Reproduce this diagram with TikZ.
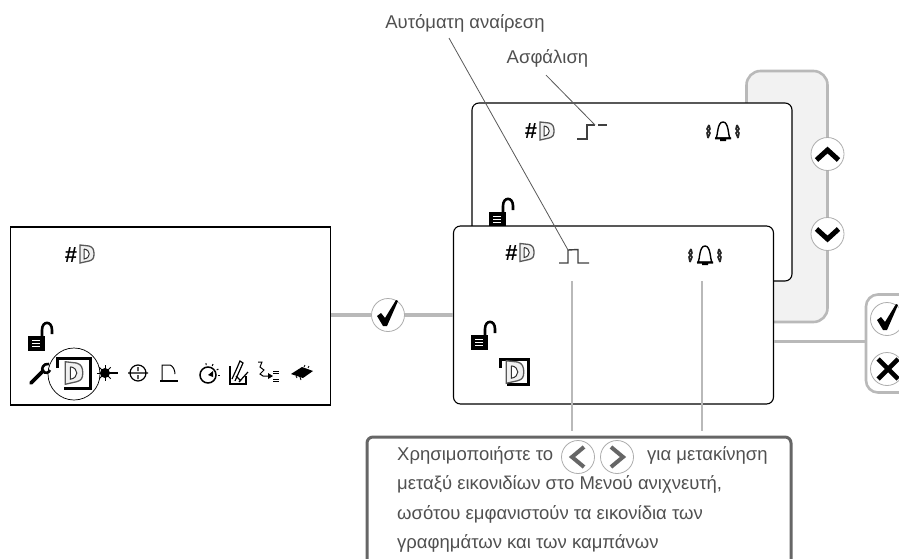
\documentclass[tikz,border=0pt]{standalone}
\usepackage{fontspec}
\setmainfont{Liberation Sans}
\definecolor{flow}{HTML}{b9b9b9}
\definecolor{panel}{HTML}{f2f2f2}
\definecolor{note}{HTML}{666666}
\definecolor{inktext}{HTML}{505050}
\tikzset{screen box/.style={draw=black,fill=white,line width=1.1pt,minimum width=320pt,minimum height=178pt,inner sep=0pt}}
\tikzset{round box/.style={screen box,rounded corners=7pt}}
\tikzset{flow line/.style={draw=flow,line width=2.6pt}}
\tikzset{lead line/.style={draw=black!65,line width=.8pt}}
\tikzset{round key/.style={circle,draw=black!32,fill=white,line width=.8pt,minimum size=33pt,inner sep=0pt}}
\tikzset{label text/.style={font=\fontsize{18.5}{20}\selectfont,text=inktext,inner sep=0pt}}
\tikzset{note text/.style={label text,anchor=base west}}
\tikzset{hash mark/.style={font=\fontsize{22}{22}\selectfont\bfseries,inner sep=0pt}}
\tikzset{
  door/.pic={
    \draw[black!65,line width=1.3pt,fill=black!6] (-7,-9) -- (2,-8) .. controls (6,-7) and (7,-4) .. (7,0)
      .. controls (7,4) and (6,6) .. (2,7) -- (-7,9) -- cycle;
    \draw[black!80,line width=1pt,fill=white] (-3,-5) -- (-3,5) .. controls (4,4) and (4,-4) .. (-3,-5);
  },
  door key/.pic={
    \draw[line width=3pt] (-17,-5) -- (-17,-15) -- (16,-15) -- (16,15) -- (-10,15);
    \pic[scale=1.25] at (0,0) {door};
  },
  lock/.pic={
    \fill (-8.5,-7.5) rectangle (8.5,7.5);
    \draw[white,line width=1pt] (-4,-3) -- (4,-3) (-4,0) -- (4,0) (-4,3) -- (4,3);
    \draw[line width=2.6pt] (6,-7) -- (6,-13) .. controls (6,-22.5) and (16,-22.5) .. (16,-13) -- (16,-9);
  },
  bell/.pic={
    \draw[line width=1.4pt] (-7,6) .. controls (-5,4) and (-6,-10) .. (0,-10) .. controls (6,-10) and (5,4) .. (7,6) -- cycle;
    \fill (-8,5.5) rectangle (8,7.5) (-3,7) rectangle (3,9);
    \draw[line width=1.6pt,black!85] (-14,-7) -- (-16,-3) -- (-13,1) -- (-15,6) (-14,-7) -- (-13,-3) -- (-16,1) -- (-15,6)
      (14,-7) -- (16,-3) -- (13,1) -- (15,6) (14,-7) -- (13,-3) -- (16,1) -- (15,6);
  },
  check mark/.pic={
    \fill (-11,1) -- (-7,-2) -- (-3,3) -- (8,-15) -- (10,-14) -- (-1,11) -- (-5,11) -- cycle;
  },
  cross mark/.pic={
    \draw[line width=4.6pt] (-10,-10) -- (10,10) (-10,10) -- (10,-10);
  },
  wrench/.pic={
    \draw[line width=3.6pt,line cap=round] (-9,10) -- (3,-2);
    \draw[line width=2.6pt] (9,-9) .. controls (3,-10) and (1,-4) .. (3,-2) .. controls (5,1) and (9,0) .. (10,-3);
  },
  laser/.pic={
    \fill circle (5);
    \foreach \ang in {45,90,135,180,225,270,315} \draw[line width=1pt] (0,0) -- (\ang:8);
    \draw[line width=1.2pt] (0,0) -- (13,0);
  },
  target/.pic={
    \draw[line width=1.2pt] (0,0) circle (8) (-10,0) -- (10,0) (0,-6) -- (0,-2) (0,2) -- (0,6);
  },
  angle mark/.pic={
    \draw[line width=2pt] (-8,9) -- (10,9);
    \draw[line width=1pt] (-6,9) -- (-6,-7) -- (2,-7) .. controls (5,-6) and (7,-2) .. (7,2);
  },
  stopwatch/.pic={
    \draw[line width=1.5pt] (0,0) circle (8);
    \fill (0,0) -- (5,-4) -- (5,2) -- cycle;
    \foreach \ang in {-100,-65,-30,0} \draw[line width=1pt] (\ang:10) -- (\ang:12);
  },
  notepad/.pic={
    \draw[line width=1.1pt] (-8,-7) -- (-8,11) -- (8,11) -- (8,3);
    \draw[line width=1.2pt] (-6,6) -- (-1,-5) -- (2,-12) -- (5,-10) -- (-3,8) (-2,3) -- (3,8) (10,-1) -- (1,9);
  },
  wire mark/.pic={
    \draw[line width=1pt] (-9,-11) -- (-5,-11) -- (-7,-6) -- (-3,-3) -- (-7,1) -- (-4,3) -- (3,3);
    \fill (1,0) -- (6,3) -- (1,6) -- cycle;
    \draw[line width=1pt] (6,-2) -- (12,-2) (6,0) -- (12,0) (6,6) -- (12,6) (6,8) -- (12,8);
  },
  chip/.pic={
    \fill (-11,1) -- (0,-6) -- (11,-2) -- (1,5) -- cycle;
    \draw[line width=.8pt] (-6,3) -- (-5,5) (-2,4) -- (-1,7) (2,-6) -- (3,-8) (6,-5) -- (7,-7);
  }
}
\begin{document}
\begin{tikzpicture}[x=1pt,y=-1pt]
  \path[use as bounding box,clip] (0,0) rectangle (899,559);
  % grey loop behind the second screens
  \node[flow line,fill=panel,rounded corners=14pt,minimum width=81pt,minimum height=251pt,inner sep=0pt] (cycle panel) at (787,196.5) {};
  \node[round key] (up key) at (827.5,154) {};
  \node[round key] (down key) at (827.5,234) {};
  \pic at (up key) {code={\draw[line width=5pt] (-11,6) -- (0,-4) -- (11,6);}};
  \pic at (down key) {code={\draw[line width=5pt] (-11,-5) -- (0,5) -- (11,-5);}};
  \node[round box] (back screen) at (632,192) {};
  \node[hash mark] (back hash) at (531,131.5) {\#};
  \pic at (547,131) {door};
  \pic at (723,132) {bell};
  \pic at (497,219) {lock};
  \coordinate (step end) at (595,125);
  \draw[line width=1.4pt,black!75] (577,139) -- (587,139) -- (587,125) -- (step end) (598,125) -- (607,125);
  \node[round box] (front screen) at (613.5,315) {};
  \node[hash mark] (front hash) at (511.5,253.5) {\#};
  \pic at (527,252.5) {door};
  \pic at (705,256) {bell};
  \pic at (479,342) {lock};
  \pic[scale=.85] at (515,372) {door key};
  \coordinate (pulse end) at (568,250);
  \draw[line width=1.4pt,black!75] (559,263) -- (568,263) -- (pulse end) -- (578,249.5) -- (578,263) -- (589,263);
  \node[screen box,draw=black] (main screen) at (170.5,316) {};
  \node[hash mark] (main hash) at (71,255.5) {\#};
  \pic at (87,254) {door};
  \pic at (36,343) {lock};
  \pic at (40,373) {wrench};
  \pic at (74,373) {door key};
  \node[circle,draw=black,line width=.7pt,minimum size=52pt,inner sep=0pt] (pick ring) at (74,374) {};
  \pic at (105,373) {laser};
  \pic at (138,373) {target};
  \pic at (168,372) {angle mark};
  \pic at (208,375) {stopwatch};
  \pic at (238,373) {notepad};
  \pic at (267,373) {wire mark};
  \pic at (302,373) {chip};
  % flow between the screens
  \node[round key] (ok key) at (388,315) {};
  \draw[flow line,line width=3.4pt] (main screen.east |- ok key) -- (ok key);
  \draw[flow line,line width=3.4pt] (ok key) -- (front screen.west |- ok key);
  \pic at (388,315) {check mark};
  \node[flow line,fill=white,rounded corners=12pt,minimum width=110pt,minimum height=98pt,inner sep=0pt] (save group) at (921,343.5) {};
  \draw[flow line,line width=3.2pt] (front screen.east |- 0,341.5) -- (save group.west |- 0,341.5);
  \node[round key] (save key) at (887,319) {};
  \node[round key] (drop key) at (887,369) {};
  \pic at (888,319) {check mark};
  \pic at (888,369) {cross mark};
  % labels at the top
  \node[label text] (undo label) at (465,23) {Αυτόματη αναίρεση};
  \node[label text] (latch label) at (547.5,58) {Ασφάλιση};
  \draw[lead line] ([shift={(-16,6)}]undo label.south) -- (pulse end);
  \draw[lead line] ([shift={(-1.5,8)}]latch label.south) -- (step end);
  % note under the screens
  \node[draw=note,fill=white,line width=3pt,rounded corners=6pt,minimum width=424pt,minimum height=160pt,inner sep=0pt] (help box) at (579,517) {};
  \coordinate (pulse drop) at (572,281);
  \coordinate (bell drop) at (702,281);
  \draw[flow line,line width=2.4pt] (pulse drop) -- (572,431);
  \draw[flow line,line width=2.4pt] (bell drop) -- (702,431);
  \node[note text] (help a) at (397,460) {Χρησιμοποιήστε το};
  \node[round key] (left key) at (578,457) {};
  \node[round key] (right key) at (617,457) {};
  \pic at (left key) {code={\draw[note,line width=4pt] (6,-10) -- (-6,0) -- (6,10);}};
  \pic at (right key) {code={\draw[note,line width=4pt] (-6,-10) -- (6,0) -- (-6,10);}};
  \node[note text] (help b) at (647,460) {για μετακίνηση};
  \node[note text] (help c) at (397,489) {μεταξύ εικονιδίων στο Μενού ανιχνευτή,};
  \node[note text] (help d) at (397,519) {ωσότου εμφανιστούν τα εικονίδια των};
  \node[note text] (help e) at (397,548) {γραφημάτων και των καμπάνων};
\end{tikzpicture}
\end{document}
